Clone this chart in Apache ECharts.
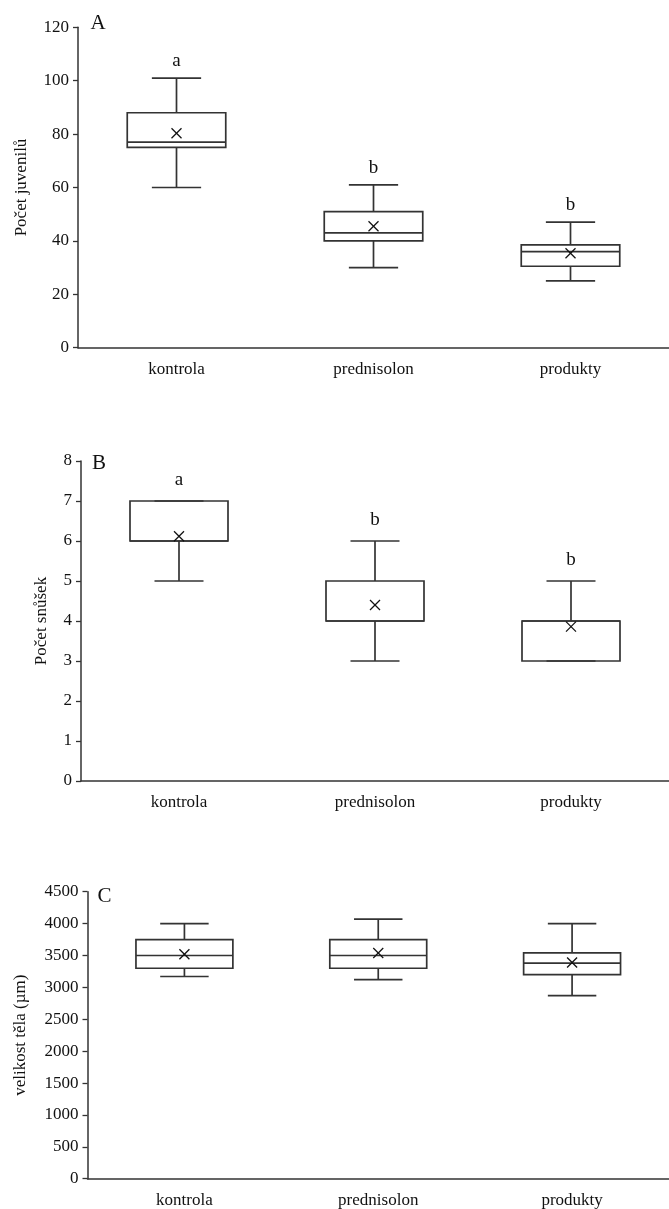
<!DOCTYPE html>
<html>
<head>
<meta charset="utf-8">
<script src="https://cdn.jsdelivr.net/npm/echarts@6/dist/echarts.min.js"></script>
<style>
html,body{margin:0;padding:0;background:#fff;}
#c{width:669px;height:1209px;}
</style>
</head>
<body>
<div id="c"></div>
<script>
// ---- data ----
const categories = ['kontrola', 'prednisolon', 'produkty'];

// Panel A: Počet juvenilů
const aMin = [60, 30, 25];
const aQ1 = [75, 40, 30.5];
const aMed = [77, 43, 36];
const aQ3 = [88, 51, 38.5];
const aMax = [101, 61, 47];
const aMean = [80.3, 45.5, 35.4];
const aLetters = ['a', 'b', 'b'];

// Panel B: Počet snůšek
const bMin = [5, 3, 3];
const bQ1 = [6, 4, 3];
const bMed = [6, 4, 4];
const bQ3 = [7, 5, 4];
const bMax = [7, 6, 5];
const bMean = [6.12, 4.4, 3.86];
const bLetters = ['a', 'b', 'b'];

// Panel C: velikost těla (µm)
const cMin = [3170, 3120, 2870];
const cQ1 = [3300, 3300, 3200];
const cMed = [3500, 3500, 3380];
const cQ3 = [3750, 3750, 3540];
const cMax = [4000, 4070, 4000];
const cMean = [3520, 3540, 3390];
const cLetters = ['', '', ''];

const yTicksA = {min: 0, max: 120, interval: 20};
const yTicksB = {min: 0, max: 8, interval: 1};
const yTicksC = {min: 0, max: 4500, interval: 500};

const panels = [
  {name: 'Počet juvenilů', letter: 'A', min: aMin, q1: aQ1, med: aMed, q3: aQ3, max: aMax, mean: aMean, labels: aLetters, ticks: yTicksA},
  {name: 'Počet snůšek', letter: 'B', min: bMin, q1: bQ1, med: bMed, q3: bQ3, max: bMax, mean: bMean, labels: bLetters, ticks: yTicksB},
  {name: 'velikost těla (µm)', letter: 'C', min: cMin, q1: cQ1, med: cMed, q3: cQ3, max: cMax, mean: cMean, labels: cLetters, ticks: yTicksC}
];

// ---- layout ----
const FONT = '"Liberation Serif", "Times New Roman", serif';
const INK = '#333';
const grids = [
  {left: 78, top: 27.3, width: 600, height: 320.4},
  {left: 81, top: 461, width: 597, height: 320},
  {left: 87.5, top: 891.7, width: 591, height: 287}
];
const nameGaps = [48, 31, 58];
const letterOffsets = [17, 21, 18];

const chart = echarts.init(document.getElementById('c'), null, {renderer: 'canvas'});

function makeRender(panel, pi) {
  return function (params, api) {
    const i = api.value(0);
    const pMin = api.coord([i, api.value(1)]);
    const pQ1 = api.coord([i, api.value(2)]);
    const pMed = api.coord([i, api.value(3)]);
    const pQ3 = api.coord([i, api.value(4)]);
    const pMax = api.coord([i, api.value(5)]);
    const pMean = api.coord([i, api.value(6)]);
    const band = api.size([1, 0])[0];
    const bw = band * 0.25;
    const cw = band * 0.125;
    const cx = pMed[0];
    const ls = {stroke: INK, lineWidth: 1.7, fill: null};
    const children = [
      {type: 'line', shape: {x1: cx - cw, y1: pMax[1], x2: cx + cw, y2: pMax[1]}, style: ls},
      {type: 'line', shape: {x1: cx, y1: pMax[1], x2: cx, y2: pQ3[1]}, style: ls},
      {type: 'line', shape: {x1: cx, y1: pQ1[1], x2: cx, y2: pMin[1]}, style: ls},
      {type: 'line', shape: {x1: cx - cw, y1: pMin[1], x2: cx + cw, y2: pMin[1]}, style: ls},
      {type: 'rect', shape: {x: cx - bw, y: pQ3[1], width: 2 * bw, height: pQ1[1] - pQ3[1]}, style: {stroke: INK, lineWidth: 1.7, fill: 'rgba(0,0,0,0)'}},
      {type: 'line', shape: {x1: cx - bw, y1: pMed[1], x2: cx + bw, y2: pMed[1]}, style: ls},
      {type: 'line', shape: {x1: pMean[0] - 5, y1: pMean[1] - 5, x2: pMean[0] + 5, y2: pMean[1] + 5}, style: {stroke: '#111', lineWidth: 1.3}},
      {type: 'line', shape: {x1: pMean[0] - 5, y1: pMean[1] + 5, x2: pMean[0] + 5, y2: pMean[1] - 5}, style: {stroke: '#111', lineWidth: 1.3}}
    ];
    const lab = panel.labels[params.dataIndex];
    if (lab) {
      children.push({type: 'text', style: {text: lab, x: cx, y: pMax[1] - letterOffsets[pi], align: 'center', verticalAlign: 'middle', font: '19px ' + FONT, fill: '#111'}});
    }
    return {type: 'group', children: children};
  };
}

const option = {
  animation: false,
  backgroundColor: '#fff',
  grid: grids,
  xAxis: grids.map((g, gi) => ({
    type: 'category', gridIndex: gi, data: categories,
    axisLine: {lineStyle: {color: INK, width: 1.5}},
    axisTick: {show: false},
    axisLabel: {color: '#111', fontFamily: FONT, fontSize: 17, margin: 13},
    splitLine: {show: false}
  })),
  yAxis: panels.map((p, gi) => ({
    type: 'value', gridIndex: gi, min: p.ticks.min, max: p.ticks.max, interval: p.ticks.interval,
    name: p.name, nameLocation: 'middle', nameGap: nameGaps[gi], nameRotate: 90,
    nameTextStyle: {color: '#111', fontFamily: FONT, fontSize: 17},
    axisLine: {show: true, lineStyle: {color: INK, width: 1.5}},
    axisTick: {show: true, length: 5, lineStyle: {color: INK, width: 1.3}},
    axisLabel: {color: '#111', fontFamily: FONT, fontSize: 17, margin: 9, formatter: v => String(v)},
    splitLine: {show: false}
  })),
  graphic: panels.map((p, gi) => ({
    type: 'text',
    x: [98, 99, 104.5][gi],
    y: [23, 463, 896][gi],
    style: {text: p.letter, font: '21px ' + FONT, fill: '#111', align: 'center', verticalAlign: 'middle'}
  })),
  series: panels.map((p, gi) => ({
    type: 'custom', xAxisIndex: gi, yAxisIndex: gi,
    renderItem: makeRender(p, gi),
    encode: {x: 0, y: [1, 2, 3, 4, 5, 6]},
    clip: false,
    data: categories.map((c, i) => [i, p.min[i], p.q1[i], p.med[i], p.q3[i], p.max[i], p.mean[i]])
  }))
};
chart.setOption(option);
</script>
</body>
</html>
